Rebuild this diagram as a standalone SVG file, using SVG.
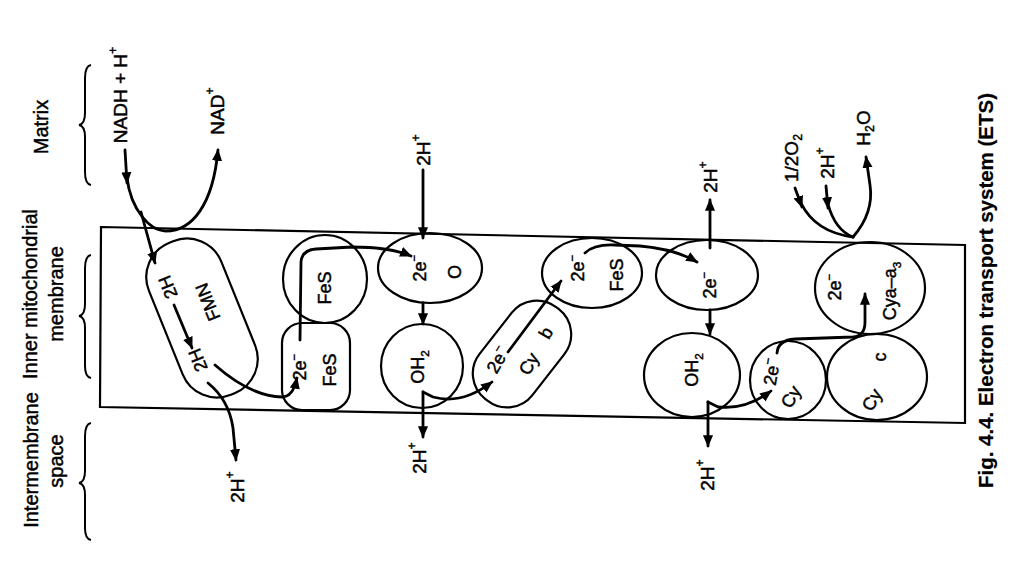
<svg xmlns="http://www.w3.org/2000/svg" width="1024" height="576" viewBox="0 0 1024 576">
<defs>
<style>
text{font-family:"Liberation Sans",Arial,sans-serif;fill:#000;stroke:#000;stroke-width:0.45;text-anchor:middle;dominant-baseline:central;font-size:19px}
.side{font-size:20px}
.cap{font-size:20.5px;font-weight:bold;text-anchor:start;stroke-width:0.2}
.in{font-size:18px}
.shape{fill:none;stroke:#000;stroke-width:2.2}
.brace{fill:none;stroke:#000;stroke-width:2}
.conn path{fill:none;stroke:#000;stroke-width:2.8;stroke-linecap:round}
.conn path.a{marker-end:url(#ah)}
</style>
<marker id="ah" viewBox="0 0 10 10" refX="9" refY="5" markerWidth="12" markerHeight="12" markerUnits="userSpaceOnUse" orient="auto">
<path d="M0,0.8 L10,5 L0,9.2 z" fill="#000"/>
</marker>
</defs>
<rect width="1024" height="576" fill="#fff"/>

<g id="side-labels">
<text class="side" x="41" y="127" transform="rotate(-90 41 127)">Matrix</text>
<text class="side" x="30" y="294" transform="rotate(-90 30 294)">Inner mitochondrial</text>
<text class="side" x="56" y="294" transform="rotate(-90 56 294)">membrane</text>
<text class="side" x="31" y="460" transform="rotate(-90 31 460)">Intermembrane</text>
<text class="side" x="56" y="461" transform="rotate(-90 56 461)">space</text>
<path class="brace" d="M91,65 Q85,66 85,78 L85,113 Q85,124 79,125 Q85,126 85,137 L85,172 Q85,184 91,185"/>
<path class="brace" d="M91,255 Q85,256 85,268 L85,304 Q85,315 79,316 Q85,317 85,328 L85,366 Q85,377 91,378"/>
<path class="brace" d="M91,423 Q85,424 85,436 L85,471 Q85,482 79,483 Q85,484 85,495 L85,528 Q85,539 91,540"/>
</g>

<g id="membrane">
<polygon class="shape" points="101,227 965,245 965,423 100,407" stroke-width="2.6"/>
</g>

<g id="FMN">
<rect class="shape" x="-39" y="-82" width="78" height="164" rx="37" transform="translate(202,318) rotate(-22)"/>
<text class="in" x="168" y="287" transform="rotate(-112 168 287)">2H</text>
<text class="in" x="208" y="302" transform="rotate(-112 208 302)">FMN</text>
<text class="in" x="198" y="360" transform="rotate(-112 198 360)">2H</text>
</g>

<g id="FeS-upper">
<ellipse class="shape" cx="325" cy="279" rx="42" ry="44"/>
<text class="in" x="325" y="288" transform="rotate(-90 325 288)">FeS</text>
</g>

<g id="FeS-lower">
<rect class="shape" x="282" y="323" width="68" height="87" rx="20"/>
<text class="in" x="300" y="367" transform="rotate(-90 300 367)">2e<tspan baseline-shift="super" font-size="65%">−</tspan></text>
<text class="in" x="330" y="370" transform="rotate(-90 330 370)">FeS</text>
</g>

<g id="Q">
<ellipse class="shape" cx="430" cy="268" rx="52" ry="35"/>
<text class="in" x="420" y="268" transform="rotate(-90 420 268)">2e<tspan baseline-shift="super" font-size="65%">−</tspan></text>
<text class="in" x="455" y="272" transform="rotate(-90 455 272)">O</text>
</g>

<g id="QH2">
<ellipse class="shape" cx="422" cy="366" rx="41" ry="42"/>
<text class="in" x="418" y="367" transform="rotate(-90 418 367)">OH<tspan baseline-shift="sub" font-size="65%">2</tspan></text>
</g>

<g id="Cyb">
<rect class="shape" x="-58" y="-33.5" width="116" height="67" rx="32" transform="translate(522,354) rotate(-52)"/>
<text class="in" x="498" y="360" transform="rotate(-60 498 360)">2e<tspan baseline-shift="super" font-size="65%">−</tspan></text>
<text class="in" x="529" y="364" transform="rotate(-60 529 364)">Cy</text>
<text class="in" x="546" y="333" transform="rotate(-60 546 333)">b</text>
</g>

<g id="FeS-3">
<ellipse class="shape" cx="592" cy="273" rx="50" ry="35"/>
<text class="in" x="578" y="268" transform="rotate(-90 578 268)">2e<tspan baseline-shift="super" font-size="65%">−</tspan></text>
<text class="in" x="617" y="275" transform="rotate(-90 617 275)">FeS</text>
</g>

<g id="carrier-2e">
<ellipse class="shape" cx="707" cy="275" rx="51" ry="35"/>
<text class="in" x="710" y="285" transform="rotate(-90 710 285)">2e<tspan baseline-shift="super" font-size="65%">−</tspan></text>
</g>

<g id="QH2-2">
<ellipse class="shape" cx="692" cy="375" rx="48" ry="42"/>
<text class="in" x="692" y="370" transform="rotate(-90 692 370)">OH<tspan baseline-shift="sub" font-size="65%">2</tspan></text>
</g>

<g id="Cy1">
<ellipse class="shape" cx="788" cy="380" rx="38" ry="39"/>
<text class="in" x="772" y="372" transform="rotate(-80 772 372)">2e<tspan baseline-shift="super" font-size="65%">−</tspan></text>
<text class="in" x="791" y="397" transform="rotate(-60 791 397)">Cy</text>
</g>

<g id="Cyc">
<ellipse class="shape" cx="877" cy="377" rx="50" ry="43"/>
<text class="in" x="880" y="357" transform="rotate(-90 880 357)">c</text>
<text class="in" x="872" y="400" transform="rotate(-60 872 400)">Cy</text>
</g>

<g id="Cyaa3">
<ellipse class="shape" cx="870" cy="288" rx="55" ry="46"/>
<text class="in" x="835" y="287" transform="rotate(-90 835 287)">2e<tspan baseline-shift="super" font-size="65%">−</tspan></text>
<text class="in" x="890" y="291" transform="rotate(-90 890 291)">Cya–a<tspan baseline-shift="sub" font-size="65%">3</tspan></text>
</g>

<g id="flow-labels">
<text x="120" y="95" transform="rotate(-90 120 95)">NADH + H<tspan baseline-shift="super" font-size="65%">+</tspan></text>
<text x="217" y="111" transform="rotate(-90 217 111)">NAD<tspan baseline-shift="super" font-size="65%">+</tspan></text>
<text x="423" y="150" transform="rotate(-90 423 150)">2H<tspan baseline-shift="super" font-size="65%">+</tspan></text>
<text x="710" y="177" transform="rotate(-90 710 177)">2H<tspan baseline-shift="super" font-size="65%">+</tspan></text>
<text x="791" y="158" transform="rotate(-90 791 158)">1/2O<tspan baseline-shift="sub" font-size="65%">2</tspan></text>
<text x="827" y="163" transform="rotate(-90 827 163)">2H<tspan baseline-shift="super" font-size="65%">+</tspan></text>
<text x="863" y="128" transform="rotate(-90 863 128)">H<tspan baseline-shift="sub" font-size="65%">2</tspan>O</text>
<text x="237" y="487" transform="rotate(-90 237 487)">2H<tspan baseline-shift="super" font-size="65%">+</tspan></text>
<text x="419" y="458" transform="rotate(-90 419 458)">2H<tspan baseline-shift="super" font-size="65%">+</tspan></text>
<text x="707" y="475" transform="rotate(-90 707 475)">2H<tspan baseline-shift="super" font-size="65%">+</tspan></text>
</g>

<g id="connectors" class="conn">
<path class="a" d="M125,150 L127,183"/>
<path class="a" d="M127,178 C131,210 150,231 166,231 C192,231 213,205 218,150"/>
<path class="a" d="M141,212 L155,263"/>
<path class="a" d="M174,305 L192,348"/>
<path class="a" d="M215,365 Q250,396 282,397 Q293,397 297,378"/>
<path class="a" d="M208,383 Q229,400 233,428 L236,460"/>
<path class="a" d="M300,340 L301,262 Q302,250 316,249 L352,247 Q390,247 411,256"/>
<path class="a" d="M423,170 L423,238"/>
<path class="a" d="M423,303 L423,324"/>
<path class="a" d="M423,392 L423,437"/>
<path class="a" d="M423,392 L433,397 Q462,405 492,382"/>
<path class="a" d="M508,352 L561,281"/>
<path class="a" d="M585,253 Q594,244 615,245 L640,246 Q675,249 697,262"/>
<path class="a" d="M710,248 L710,200"/>
<path class="a" d="M710,310 L710,334"/>
<path class="a" d="M708,402 L708,446"/>
<path class="a" d="M708,402 L718,407 Q746,410 771,391"/>
<path class="a" d="M777,353 Q778,340 795,339 L853,337 Q865,336 865,322 L865,294"/>
<path class="a" d="M795,188 L802,207"/>
<path d="M801,203 Q815,232 853,237"/>
<path class="a" d="M826,186 L828,208"/>
<path d="M828,204 Q835,230 853,237"/>
<path class="a" d="M853,237 C866,222 873,205 870,185 L866,157"/>
</g>

<g id="caption">
<text class="cap" x="985" y="488" textLength="395" lengthAdjust="spacingAndGlyphs" transform="rotate(-90 985 488)">Fig. 4.4. Electron transport system (ETS)</text>
</g>
</svg>
